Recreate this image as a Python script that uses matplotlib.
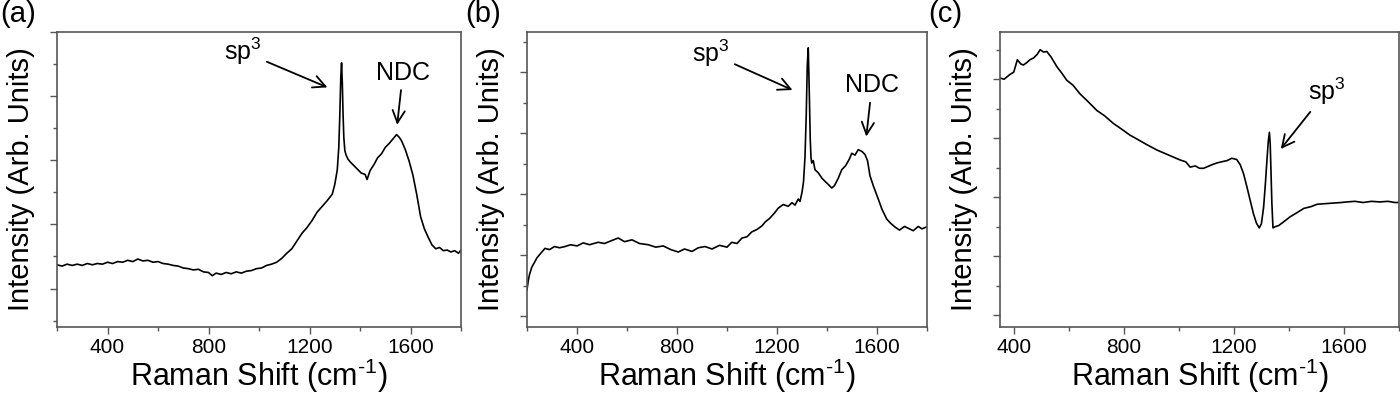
from matplotlib import pyplot as plt
from matplotlib.ticker import MultipleLocator, NullFormatter
import numpy as np

plt.rcParams['font.family'] = ['Liberation Sans', 'DejaVu Sans']

# (a) spectrum
a_shift = [200, 220, 240, 260, 280, 300, 320, 340, 360, 380, 400, 420, 440, 460, 480,
           500, 520, 540, 560, 580, 600, 620, 640, 660, 680, 700, 720, 740, 760, 780,
           800, 815, 830, 850, 870, 890, 910, 930, 950, 970, 990, 1010, 1030, 1050, 1070,
           1090, 1110, 1130, 1150, 1170, 1190, 1210, 1230, 1250, 1270, 1290, 1300, 1310,
           1316, 1320, 1324, 1327, 1330, 1333, 1336, 1340, 1345, 1352, 1362, 1375, 1390,
           1405, 1420, 1428, 1440, 1455, 1470, 1485, 1500, 1515, 1530, 1545, 1555, 1565,
           1580, 1595, 1610, 1625, 1640, 1655, 1670, 1685, 1700, 1715, 1730, 1745, 1760,
           1775, 1790, 1800]
a_int = [0.37, 0.35, 0.38, 0.36, 0.38, 0.36, 0.39, 0.37, 0.39, 0.38, 0.41, 0.39, 0.42, 0.41, 0.44,
         0.42, 0.46, 0.43, 0.44, 0.41, 0.42, 0.39, 0.38, 0.36, 0.35, 0.32, 0.31, 0.29, 0.30, 0.26,
         0.25, 0.20, 0.24, 0.22, 0.25, 0.23, 0.26, 0.24, 0.27, 0.28, 0.31, 0.32, 0.36, 0.38, 0.41,
         0.47, 0.55, 0.62, 0.74, 0.86, 0.95, 1.06, 1.19, 1.28, 1.37, 1.47, 1.62, 1.85,
         2.20, 2.70, 3.30, 3.52, 3.20, 2.70, 2.35, 2.15, 2.08, 2.02, 1.97, 1.92, 1.86,
         1.80, 1.78, 1.70, 1.84, 1.93, 2.04, 2.10, 2.20, 2.26, 2.33, 2.40, 2.36, 2.30,
         2.16, 1.98, 1.76, 1.46, 1.12, 0.93, 0.80, 0.68, 0.62, 0.64, 0.59, 0.60, 0.57,
         0.59, 0.55, 0.60]

# (b) spectrum
b_shift = [200, 205, 210, 219, 230, 239, 255, 272, 290, 310, 330, 352, 375, 400, 425, 450,
           485, 510, 540, 565, 590, 620, 650, 685, 715, 745, 775, 805, 830, 860, 885, 912,
           940, 970, 1000, 1019, 1040, 1060, 1080, 1099, 1120, 1140, 1152, 1170, 1190, 1205,
           1225, 1245, 1260, 1272, 1285, 1292, 1300, 1306, 1312, 1317, 1321, 1325, 1329,
           1333, 1336, 1339, 1345, 1352, 1365, 1380, 1392, 1405, 1419, 1430, 1445, 1459,
           1475, 1490, 1499, 1512, 1525, 1540, 1552, 1562, 1572, 1585, 1605, 1620, 1639,
           1655, 1672, 1690, 1710, 1725, 1745, 1765, 1780, 1797]
b_int = [0.43, 0.58, 0.68, 0.80, 0.88, 0.95, 1.03, 1.11, 1.09, 1.14, 1.12, 1.14, 1.17, 1.15, 1.20, 1.17,
         1.21, 1.19, 1.24, 1.28, 1.22, 1.25, 1.19, 1.17, 1.13, 1.15, 1.09, 1.05, 1.10, 1.06, 1.12, 1.14,
         1.10, 1.16, 1.13, 1.21, 1.19, 1.28, 1.30, 1.38, 1.42, 1.48, 1.54, 1.60, 1.69, 1.77,
         1.83, 1.80, 1.86, 1.82, 1.92, 1.88, 2.03, 2.20, 2.61, 3.30, 4.10, 4.40, 3.70,
         2.90, 2.60, 2.51, 2.55, 2.40, 2.35, 2.26, 2.21, 2.16, 2.10, 2.14, 2.26, 2.40,
         2.47, 2.58, 2.67, 2.64, 2.73, 2.70, 2.65, 2.55, 2.30, 2.14, 1.92, 1.75, 1.59,
         1.52, 1.46, 1.41, 1.47, 1.44, 1.40, 1.47, 1.43, 1.46]

# (c) spectrum
c_shift = [350, 365, 386, 400, 413, 425, 435, 447, 459, 472, 485, 496, 508, 520, 535, 557,
           575, 593, 615, 641, 670, 702, 730, 762, 790, 823, 850, 880, 920, 950, 980, 1005,
           1025, 1041, 1060, 1075, 1090, 1105, 1120, 1138, 1155, 1175, 1192, 1210, 1223,
           1235, 1247, 1259, 1271, 1282, 1292, 1300, 1308, 1314, 1320, 1325, 1329, 1332,
           1335, 1338, 1342, 1350, 1363, 1380, 1405, 1430, 1454, 1480, 1502, 1530, 1560,
           1590, 1611, 1640, 1670, 1700, 1730, 1760, 1785, 1800]
c_int = [4.02, 4.00, 4.08, 4.12, 4.33, 4.26, 4.24, 4.28, 4.33, 4.36, 4.42, 4.50, 4.46, 4.47, 4.38, 4.21,
         4.10, 3.98, 3.90, 3.75, 3.62, 3.47, 3.38, 3.25, 3.16, 3.05, 2.98, 2.90, 2.80, 2.74, 2.68, 2.63,
         2.60, 2.51, 2.53, 2.49, 2.49, 2.52, 2.55, 2.58, 2.60, 2.62, 2.66, 2.64, 2.55,
         2.40, 2.18, 1.95, 1.72, 1.56, 1.48, 1.55, 1.83, 2.20, 2.62, 2.95, 3.10, 2.90,
         2.40, 1.90, 1.48, 1.50, 1.52, 1.58, 1.67, 1.74, 1.81, 1.84, 1.88, 1.89, 1.90,
         1.91, 1.92, 1.93, 1.91, 1.93, 1.92, 1.93, 1.91, 1.91]

panels = [
    ('(a)', a_shift, a_int, (200, 1800), (-0.6, 4.0)),
    ('(b)', b_shift, b_int, (200, 1800), (-0.18, 4.66)),
    ('(c)', c_shift, c_int, (350, 1800), (-0.2, 4.8)),
]
lefts = [57 / 1400, 527 / 1400, 1000 / 1400]
widths = [404 / 1400, 400 / 1400, 399 / 1400]
letter_x = [0.0, 0.332, 0.663]

fig = plt.figure(figsize=(14, 3.96), dpi=100)
axes = []
for i, (tag, x, y, xlim, ylim) in enumerate(panels):
    ax = fig.add_axes([lefts[i], 69 / 396, widths[i], 295 / 396])
    ax.plot(np.array(x), np.array(y), color='black', lw=1.2)
    ax.set_xlim(*xlim)
    ax.set_ylim(*ylim)
    ax.xaxis.set_major_locator(MultipleLocator(400))
    ax.xaxis.set_minor_locator(MultipleLocator(200))
    ax.yaxis.set_major_locator(MultipleLocator(1))
    ax.yaxis.set_minor_locator(MultipleLocator(0.5))
    ax.yaxis.set_major_formatter(NullFormatter())
    ax.tick_params(which='major', direction='out', length=5, width=1, color='#555555', labelsize=15, pad=3)
    ax.tick_params(which='minor', direction='out', length=3, width=1, color='#555555')
    for s in ax.spines.values():
        s.set_color('#555555')
        s.set_linewidth(1.2)
    ax.set_xlabel('Raman Shift (cm$^{\\mathregular{\u20101}}$)', fontsize=22, labelpad=0)
    ax.set_ylabel('Intensity (Arb. Units)', fontsize=21, labelpad=8)
    fig.text(letter_x[i], 1.0, tag, fontsize=21, ha='left', va='top')
    axes.append(ax)

arrow = dict(arrowstyle='->', color='black', lw=1.3, mutation_scale=22)
axes[0].annotate(r'sp$^{\mathregular{3}}$', xy=(1281, 3.12), xytext=(1010, 3.45), fontsize=18,
                 ha='right', va='bottom', arrowprops=arrow)
axes[0].annotate('NDC', xy=(1546, 2.51), xytext=(1570, 3.18), fontsize=18,
                 ha='center', va='bottom', arrowprops=arrow)
axes[1].annotate(r'sp$^{\mathregular{3}}$', xy=(1272, 3.69), xytext=(1010, 4.05), fontsize=18,
                 ha='right', va='bottom', arrowprops=arrow)
axes[1].annotate('NDC', xy=(1556, 2.9), xytext=(1580, 3.59), fontsize=18,
                 ha='center', va='bottom', arrowprops=arrow)
axes[2].annotate(r'sp$^{\mathregular{3}}$', xy=(1364, 2.78), xytext=(1469, 3.53), fontsize=18,
                 ha='left', va='bottom', arrowprops=arrow)

plt.savefig('out.png', dpi=100)
